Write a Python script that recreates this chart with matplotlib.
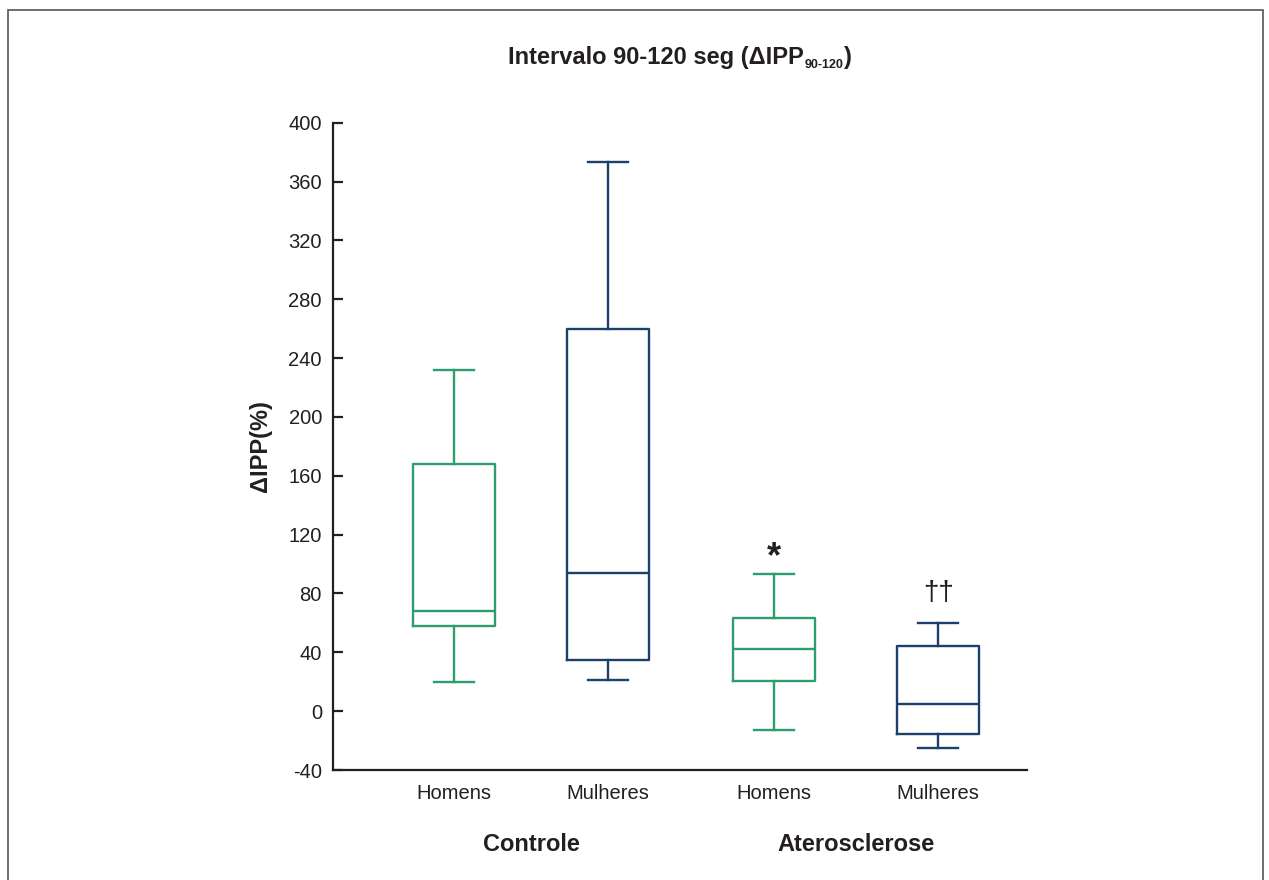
"""Boxplot Delta-IPP 90-120 seg, Controle vs Aterosclerose."""

import matplotlib
matplotlib.use("Agg")
import matplotlib.pyplot as plt
import matplotlib.transforms as mtransforms
from matplotlib.patches import Rectangle

plt.rcParams["font.family"] = ["Liberation Sans", "DejaVu Sans"]
plt.rcParams["axes.unicode_minus"] = False

# Werte
grupos = ["Controle", "Aterosclerose"]
sexos = ["Homens", "Mulheres", "Homens", "Mulheres"]
whis_hi = [232, 373, 93, 60]
q3 = [168, 260, 63, 44]
mediana = [68, 94, 42, 5]
q1 = [58, 35, 20.5, -15.5]
whis_lo = [20, 21, -12.5, -25]
marcas = ["", "", "*", "††"]
marca_y = [None, None, 104, 80]

verde = "#2f9e6f"
azul = "#1d3f6e"
cores = [verde, azul, verde, azul]
posicoes = [1.0, 1.9625, 3.0, 4.025]
preto = "#231f20"

fig = plt.figure(figsize=(12.69, 8.8), dpi=100)
ax = fig.add_axes([333 / 1269, 110 / 880, 694 / 1269, (770 - 122.7) / 880])

# Rahmen um die Abbildung
fig.patches.append(Rectangle((8 / 1269, -0.01), (1263 - 8) / 1269, (880 - 10) / 880 + 0.01,
                             transform=fig.transFigure, fill=False,
                             edgecolor="#555555", linewidth=1.2))

stats = []
for i in range(len(sexos)):
    stats.append({"med": mediana[i], "q1": q1[i], "q3": q3[i],
                  "whislo": whis_lo[i], "whishi": whis_hi[i], "fliers": []})

for i, st in enumerate(stats):
    c = cores[i]
    ax.bxp([st], positions=[posicoes[i]], widths=0.51, showfliers=False,
           capwidths=0.25,
           boxprops=dict(color=c, linewidth=1.7),
           medianprops=dict(color=c, linewidth=1.7),
           whiskerprops=dict(color=c, linewidth=1.7),
           capprops=dict(color=c, linewidth=1.7))

ax.set_xlim(0.244, 4.58)
ax.set_ylim(-40, 400)
ax.set_yticks(range(-40, 401, 40))
ax.set_xticks(posicoes)
ax.set_xticklabels(sexos)

for s in ["top", "right"]:
    ax.spines[s].set_visible(False)
for s in ["left", "bottom"]:
    ax.spines[s].set_linewidth(1.6)
    ax.spines[s].set_color(preto)

ax.tick_params(axis="y", direction="in", length=7, width=1.6, color=preto,
               labelsize=14.5, pad=8, labelcolor=preto)
ax.tick_params(axis="x", length=0, labelsize=14.5, pad=10, labelcolor=preto)

ax.set_ylabel("\u0394IPP(%)", fontsize=17, fontweight="bold", labelpad=12, color=preto)

# Signifikanz-Markierungen
for i, m in enumerate(marcas):
    if not m:
        continue
    if m == "*":
        ax.text(posicoes[i], marca_y[i], m, ha="center", va="center",
                fontsize=26, fontweight="bold", color=preto)
    else:
        ax.text(posicoes[i], marca_y[i], m, ha="center", va="center",
                fontsize=20, color=preto)

# Gruppenbeschriftung
trans = mtransforms.blended_transform_factory(ax.transData, fig.transFigure)
ax.text((posicoes[0] + posicoes[1]) / 2, (880 - 844) / 880, grupos[0], transform=trans,
        ha="center", va="center", fontsize=17, fontweight="bold", color=preto)
ax.text((posicoes[2] + posicoes[3]) / 2, (880 - 844) / 880, grupos[1], transform=trans,
        ha="center", va="center", fontsize=17, fontweight="bold", color=preto)

# Titel mit Tiefstellung
t1 = fig.text(0.4, (880 - 64) / 880, "Intervalo 90-120 seg (\u0394IPP",
              ha="left", va="baseline", fontsize=17, fontweight="bold", color=preto)
sub = fig.text(0, 0, "90-120", ha="left", va="baseline",
               fontsize=9, fontweight="bold", color=preto)
t3 = fig.text(0, 0, ")", ha="left", va="baseline",
              fontsize=17, fontweight="bold", color=preto)

r = fig.canvas.get_renderer()
w1 = t1.get_window_extent(r).width
w2 = sub.get_window_extent(r).width
w3 = t3.get_window_extent(r).width
total = w1 + 1 + w2 + 1 + w3
x0 = 680 - total / 2
yb = 880 - 64
t1.set_position((x0 / 1269, yb / 880))
sub.set_position(((x0 + w1 + 1) / 1269, (yb - 4) / 880))
t3.set_position(((x0 + w1 + 2 + w2) / 1269, yb / 880))

fig.savefig("out.png", dpi=100)
